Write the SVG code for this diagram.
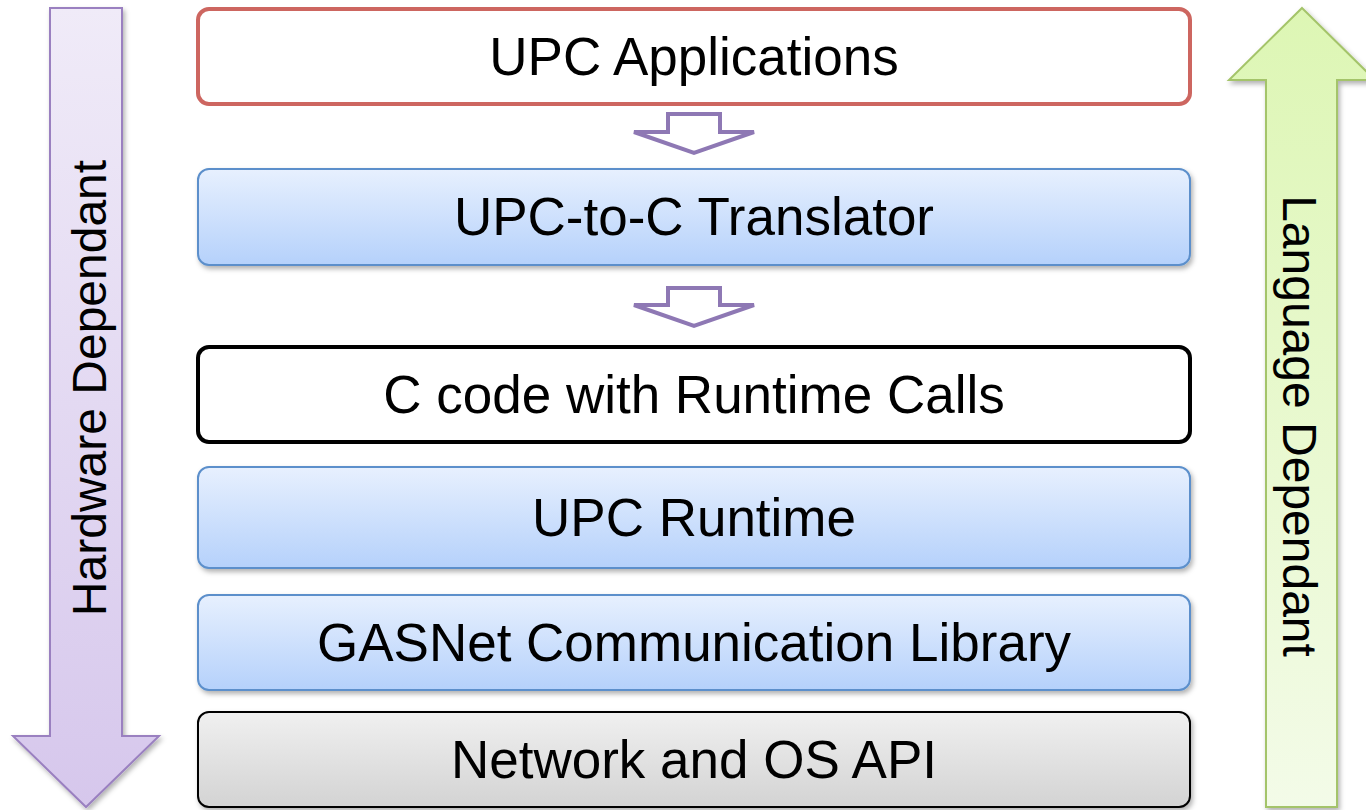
<svg xmlns="http://www.w3.org/2000/svg" width="1366" height="810" viewBox="0 0 1366 810">
<defs>
<linearGradient id="gBlue" x1="0" y1="0" x2="0" y2="1"><stop offset="0" stop-color="#e7f0fe"/><stop offset="1" stop-color="#b5d1fb"/></linearGradient>
<linearGradient id="gGray" x1="0" y1="0" x2="0" y2="1"><stop offset="0" stop-color="#f0f0f0"/><stop offset="1" stop-color="#d3d3d3"/></linearGradient>
<linearGradient id="gPurple" x1="0" y1="0" x2="0" y2="1"><stop offset="0" stop-color="#f0ebf8"/><stop offset="1" stop-color="#d6c7ec"/></linearGradient>
<linearGradient id="gGreen" x1="0" y1="0" x2="0" y2="1"><stop offset="0" stop-color="#ddf6b4"/><stop offset="1" stop-color="#f3fbe8"/></linearGradient>
<filter id="sh" x="-10%" y="-10%" width="120%" height="130%"><feDropShadow dx="2" dy="3" stdDeviation="2.5" flood-color="#000" flood-opacity="0.3"/></filter>
</defs>
<style>
.lbl{font-family:"Liberation Sans",Arial,sans-serif;font-size:53px;fill:#000;text-anchor:middle}
.side{font-family:"Liberation Sans",Arial,sans-serif;font-size:48px;fill:#000;text-anchor:middle}
.blue{fill:url(#gBlue);stroke:#5b8fcb;stroke-width:2}
.hollow{fill:#fff;stroke:#8e78b4;stroke-width:4}
</style>
<g id="hw-arrow">
<path d="M50,8 H122 V736 H159 L86,807 L13,736 H50 Z" fill="url(#gPurple)" stroke="#9a80c0" stroke-width="2" filter="url(#sh)"/>
<text class="side" transform="translate(106,388) rotate(-90)">Hardware Dependant</text>
</g>
<g id="lang-arrow">
<path d="M1302,8 L1375,80 H1337 V807 H1266 V80 H1229 Z" fill="url(#gGreen)" stroke="#a4c46a" stroke-width="2" filter="url(#sh)"/>
<text class="side" transform="translate(1283,426) rotate(90)">Language Dependant</text>
</g>
<g id="upc-apps">
<rect x="198" y="9" width="992" height="95" rx="11" fill="#fff" stroke="#cd6660" stroke-width="4"/>
<text class="lbl" x="694" y="75">UPC Applications</text>
</g>
<g id="translator">
<rect x="198" y="169" width="992" height="96" rx="11" class="blue" filter="url(#sh)"/>
<text class="lbl" x="694" y="235">UPC-to-C Translator</text>
</g>
<g id="c-code">
<rect x="198" y="347" width="992" height="95" rx="11" fill="#fff" stroke="#000" stroke-width="4"/>
<text class="lbl" x="694" y="413">C code with Runtime Calls</text>
</g>
<g id="runtime">
<rect x="198" y="467" width="992" height="101" rx="11" class="blue" filter="url(#sh)"/>
<text class="lbl" x="694" y="536">UPC Runtime</text>
</g>
<g id="gasnet">
<rect x="198" y="595" width="992" height="95" rx="11" class="blue" filter="url(#sh)"/>
<text class="lbl" x="694" y="661">GASNet Communication Library</text>
</g>
<g id="network">
<rect x="198" y="712" width="992" height="95" rx="11" fill="url(#gGray)" stroke="#000" stroke-width="2" filter="url(#sh)"/>
<text class="lbl" x="694" y="778">Network and OS API</text>
</g>
<g id="connectors">
<path class="hollow" d="M668,114 H720 V132 H754 L694,153 L634,132 H668 Z"/>
<path class="hollow" d="M668,288 H720 V305 H754 L694,326 L634,305 H668 Z"/>
</g>
</svg>
